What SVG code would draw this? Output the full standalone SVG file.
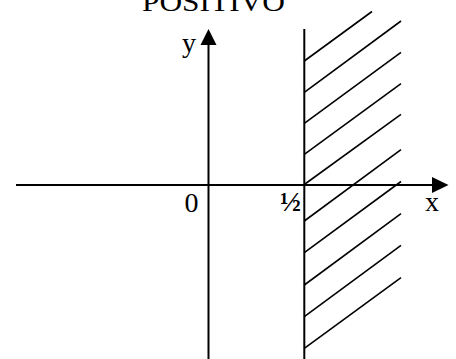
<svg xmlns="http://www.w3.org/2000/svg" width="456" height="359" viewBox="0 0 456 359">
<style>
.ax{stroke:#000;stroke-width:2;fill:none}
.h{stroke:#000;stroke-width:1.6;fill:none}
.t{font-family:"Liberation Serif","Times New Roman",serif;font-size:28px;fill:#000}
</style>
<rect width="456" height="359" fill="#fff"/>
<g id="title"><text class="t" x="142" y="10.5" font-size="31" textLength="143" lengthAdjust="spacingAndGlyphs">POSITIVO</text></g>
<g id="connectors">
<line class="ax" x1="16" y1="185" x2="434" y2="185"/>
<polygon points="448.5,185 432,177 432,193" fill="#000"/>
<line class="ax" x1="208.5" y1="359" x2="208.5" y2="43"/>
<polygon points="208.5,29 200.5,45 216.5,45" fill="#000"/>
<line class="ax" x1="304.3" y1="29" x2="304.3" y2="359"/>
<g id="hatch">
<line class="h" x1="304.3" y1="61" x2="372" y2="11.5"/>
<line class="h" x1="304.3" y1="92.3" x2="401" y2="21"/>
<line class="h" x1="304.3" y1="123.3" x2="401" y2="52.3"/>
<line class="h" x1="304.3" y1="154.3" x2="401" y2="83.7"/>
<line class="h" x1="304.3" y1="184.5" x2="401" y2="114.3"/>
<line class="h" x1="304.3" y1="221" x2="401" y2="149.7"/>
<line class="h" x1="304.3" y1="252.7" x2="401" y2="181.5"/>
<line class="h" x1="304.3" y1="285" x2="401" y2="213.7"/>
<line class="h" x1="304.3" y1="316.7" x2="401" y2="245.3"/>
<line class="h" x1="304.3" y1="348.3" x2="401" y2="277.7"/>
</g>
</g>
<g id="label-y"><text class="t" x="182" y="51.5">y</text></g>
<g id="label-x"><text class="t" x="425" y="210.7">x</text></g>
<g id="label-0"><text class="t" x="184.5" y="212.3">0</text></g>
<g id="label-half"><text class="t" x="301" y="210.5" text-anchor="end" font-weight="bold">½</text></g>
</svg>
